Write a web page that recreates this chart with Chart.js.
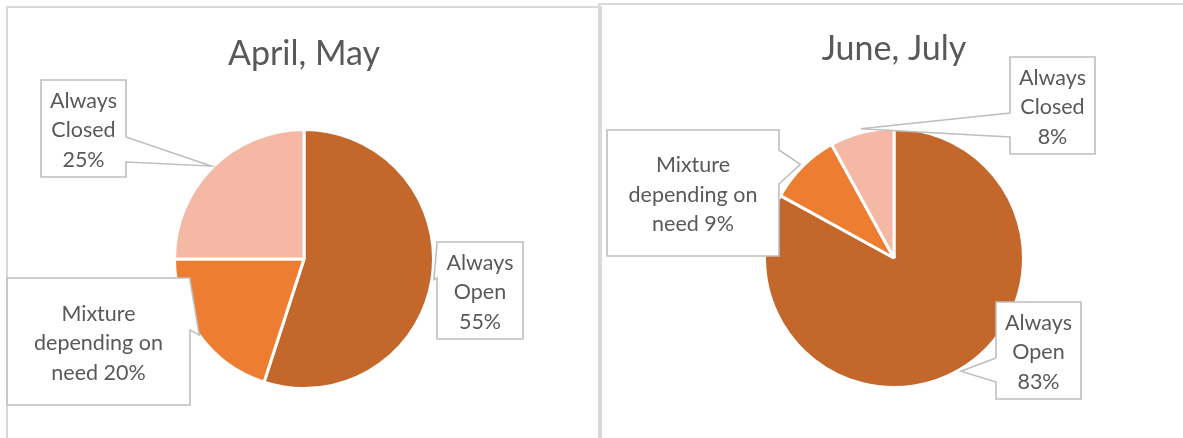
<!DOCTYPE html>
<html>
<head>
<meta charset="utf-8">
<script src="https://cdn.jsdelivr.net/npm/chart.js@4"></script>
<style>
  html, body { margin: 0; padding: 0; background: #fff; overflow: hidden; }
  body { width: 1183px; height: 438px; position: relative; }
  .panel { position: absolute; border: 2px solid #DADADA; box-sizing: border-box; }
  #p1 { left: 6px; top: 6px; width: 596px; height: 500px; }
  #p2 { left: 598px; top: 3px; width: 700px; height: 500px; }
  canvas { position: absolute; top: 0; }
  #c1 { left: 0; }
  #c2 { left: 599px; }
</style>
</head>
<body>
<div class="panel" id="p1"></div>
<div class="panel" id="p2"></div>
<canvas id="c1" width="599" height="438"></canvas>
<canvas id="c2" width="584" height="438"></canvas>
<script>
// ---- data ----
const categories = ['Always Open', 'Mixture depending on need', 'Always Closed'];
const aprilMayValues = [55, 20, 25];
const juneJulyValues = [83, 9, 8];
const chartTitles = ['April, May', 'June, July'];

// ---- styles / layout ----
const sliceColors = ['#C4672B', '#ED7D31', '#F4B8A4'];
const textColor = '#595959';
const fontFamily = 'Lato, "Open Sans", sans-serif';

// callout layout per slice: box [x, y, w, h] in canvas px, side of pointer, base offsets, wrap width
const callouts1 = [
  { box: [437, 242, 86, 97], side: 'left', base: [2, 36], wrap: 80, tipOff: 2 },
  { box: [7, 278, 183, 127], side: 'right', base: [2, 52], wrap: 155, tipOff: 0 },
  { box: [41, 80, 85, 97], side: 'right', base: [57, 82], wrap: 80, tipOff: 2 }
];
const callouts2 = [
  { box: [397, 302, 85, 97], side: 'left', base: [56, 80], wrap: 80, tipOff: 2 },
  { box: [8, 130, 172, 126], side: 'right', base: [20, 54], wrap: 155, tipOff: 3 },
  { box: [411, 57, 85, 97], side: 'left', base: [56, 80], wrap: 80, tipOff: 4 }
];

function wrapText(ctx, text, maxW) {
  const words = text.split(' ');
  const lines = [];
  let cur = '';
  for (const w of words) {
    const t = cur ? cur + ' ' + w : w;
    if (cur && ctx.measureText(t).width > maxW) { lines.push(cur); cur = w; }
    else cur = t;
  }
  if (cur) lines.push(cur);
  return lines;
}

const calloutPlugin = {
  id: 'callouts',
  afterDatasetsDraw(chart, args, opts) {
    const ctx = chart.ctx;
    const meta = chart.getDatasetMeta(0);
    const values = chart.data.datasets[0].data;
    const labels = chart.data.labels;
    ctx.save();
    ctx.font = '21.5px ' + fontFamily;
    meta.data.forEach((arc, i) => {
      const c = opts.items[i];
      if (!c) return;
      const p = arc.getProps(['x', 'y', 'startAngle', 'endAngle', 'outerRadius'], true);
      const mid = (p.startAngle + p.endAngle) / 2;
      const r = p.outerRadius + c.tipOff;
      const tx = p.x + Math.cos(mid) * r;
      const ty = p.y + Math.sin(mid) * r;
      const [x, y, w, h] = c.box;
      ctx.beginPath();
      if (c.side === 'right') {
        ctx.moveTo(x, y);
        ctx.lineTo(x + w, y);
        ctx.lineTo(x + w, y + c.base[0]);
        ctx.lineTo(tx, ty);
        ctx.lineTo(x + w, y + c.base[1]);
        ctx.lineTo(x + w, y + h);
        ctx.lineTo(x, y + h);
      } else {
        ctx.moveTo(x, y);
        ctx.lineTo(x + w, y);
        ctx.lineTo(x + w, y + h);
        ctx.lineTo(x, y + h);
        ctx.lineTo(x, y + c.base[1]);
        ctx.lineTo(tx, ty);
        ctx.lineTo(x, y + c.base[0]);
      }
      ctx.closePath();
      ctx.fillStyle = '#FFFFFF';
      ctx.fill();
      ctx.lineWidth = 1.6;
      ctx.strokeStyle = '#BFBFBF';
      ctx.lineJoin = 'miter';
      ctx.stroke();
      const text = labels[i] + ' ' + values[i] + '%';
      const lines = wrapText(ctx, text, c.wrap);
      const lh = 29.5;
      ctx.fillStyle = textColor;
      ctx.textAlign = 'center';
      ctx.textBaseline = 'middle';
      const cy = y + h / 2 + 2;
      lines.forEach((ln, k) => {
        ctx.fillText(ln, x + w / 2, cy + (k - (lines.length - 1) / 2) * lh);
      });
    });
    ctx.restore();
  }
};

function makeChart(id, title, values, padding, titlePad, items) {
  return new Chart(document.getElementById(id), {
    type: 'pie',
    data: {
      labels: categories,
      datasets: [{
        data: values,
        backgroundColor: sliceColors,
        borderColor: '#FFFFFF',
        borderWidth: 3,
        hoverOffset: 0
      }]
    },
    options: {
      responsive: false,
      animation: false,
      events: [],
      layout: { padding: padding },
      plugins: {
        legend: { display: false },
        tooltip: { enabled: false },
        title: {
          display: true,
          text: title,
          color: textColor,
          font: { family: fontFamily, size: 34, weight: 'normal', lineHeight: 1.2 },
          padding: titlePad
        },
        callouts: { items: items }
      }
    },
    plugins: [calloutPlugin]
  });
}

// title box height = 34 * 1.2 = 40.8
makeChart('c1', chartTitles[0], aprilMayValues,
  { left: 173, right: 164, top: 34, bottom: 48 }, { top: 0, bottom: 53.2 }, callouts1);
makeChart('c2', chartTitles[1], juneJulyValues,
  { left: 164, right: 158, top: 29, bottom: 49 }, { top: 0, bottom: 57.2 }, callouts2);
</script>
</body>
</html>
